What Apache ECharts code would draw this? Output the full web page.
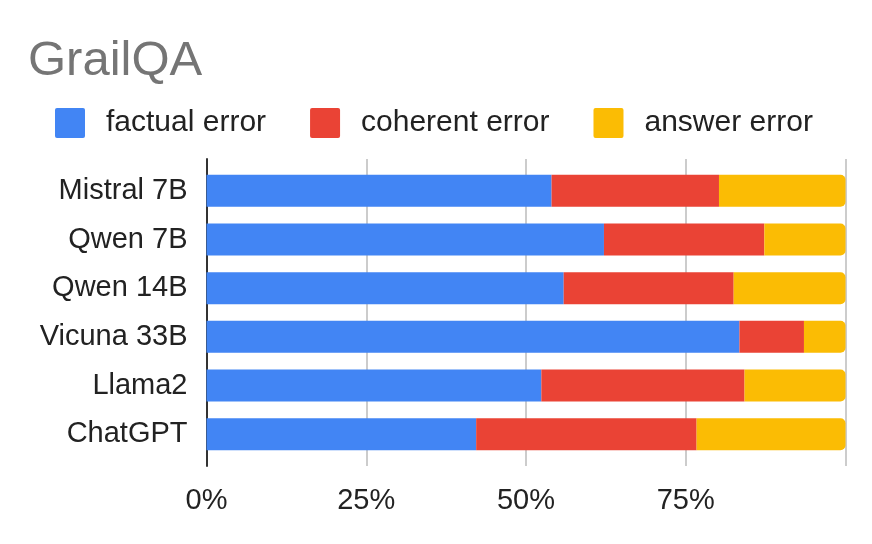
<!DOCTYPE html>
<html>
<head>
<meta charset="utf-8">
<script src="https://cdn.jsdelivr.net/npm/echarts@6/dist/echarts.min.js"></script>
<style>
  html, body { margin: 0; padding: 0; background: #fff; }
  #chart { width: 872px; height: 544px; }
</style>
</head>
<body>
<div id="chart"></div>
<script>
// models, top to bottom
const models = ['Mistral 7B', 'Qwen 7B', 'Qwen 14B', 'Vicuna 33B', 'Llama2', 'ChatGPT'];
// share of each error type (%)
const factualError = [54.0, 62.2, 55.9, 83.4, 52.4, 42.2];
const coherentError = [26.2, 25.1, 26.6, 10.1, 31.8, 34.5];
const answerError = [19.8, 12.7, 17.5, 6.5, 15.8, 23.3];
const xTicks = [0, 25, 50, 75, 100];

const font = '"Liberation Sans", Arial, sans-serif';
const square = 'path://M2,0H28Q30,0,30,2V28Q30,30,28,30H2Q0,30,0,28V2Q0,0,2,0Z';
const chart = echarts.init(document.getElementById('chart'));

chart.setOption({
  animation: false,
  title: {
    text: 'GrailQA',
    left: 28,
    top: 37,
    padding: 0,
    textStyle: { fontFamily: font, fontSize: 49, fontWeight: 'normal', color: '#757575' }
  },
  legend: {
    left: 55,
    top: 108,
    padding: 0,
    itemWidth: 30,
    itemHeight: 30,
    itemGap: 44,
    icon: square,
    textStyle: { fontFamily: font, fontSize: 30, color: '#222', padding: [0, 0, 0, 16] },
    data: ['factual error', 'coherent error', 'answer error']
  },
  grid: [
    // bars
    { left: 206.5, right: 26.5, top: 166.5, height: 292, containLabel: false },
    // gridlines + axis line
    { left: 206.5, right: 26.5, top: 159, height: 307, containLabel: false }
  ],
  xAxis: [
    {
      gridIndex: 0, type: 'value', min: 0, max: 100,
      show: false
    },
    {
      gridIndex: 1, type: 'value', min: 0, max: 100, interval: 25,
      axisLine: { show: false },
      axisTick: { show: false },
      splitLine: { show: true, lineStyle: { color: '#cccccc', width: 2 } },
      axisLabel: {
        margin: 20,
        fontFamily: font, fontSize: 29, color: '#222',
        formatter: v => (xTicks.indexOf(v) >= 0 && v < 100) ? v + '%' : ''
      }
    }
  ],
  yAxis: [
    {
      gridIndex: 0, type: 'category', data: models, inverse: true,
      axisLine: { show: false },
      axisTick: { show: false },
      axisLabel: { margin: 19, fontFamily: font, fontSize: 29, color: '#222' }
    },
    {
      gridIndex: 1, type: 'value', min: 0, max: 1,
      axisLine: { show: true, lineStyle: { color: '#333', width: 2 } },
      axisTick: { show: false },
      axisLabel: { show: false },
      splitLine: { show: false }
    }
  ],
  series: [
    {
      name: 'factual error', type: 'bar', stack: 'err',
      xAxisIndex: 0, yAxisIndex: 0,
      barWidth: 32,
      itemStyle: { color: '#4285F4' },
      data: factualError
    },
    {
      name: 'coherent error', type: 'bar', stack: 'err',
      xAxisIndex: 0, yAxisIndex: 0,
      barWidth: 32,
      itemStyle: { color: '#EA4335' },
      data: coherentError
    },
    {
      name: 'answer error', type: 'bar', stack: 'err',
      xAxisIndex: 0, yAxisIndex: 0,
      barWidth: 32,
      itemStyle: { color: '#FBBC04', borderRadius: [0, 5, 5, 0] },
      data: answerError
    }
  ]
});
</script>
</body>
</html>
